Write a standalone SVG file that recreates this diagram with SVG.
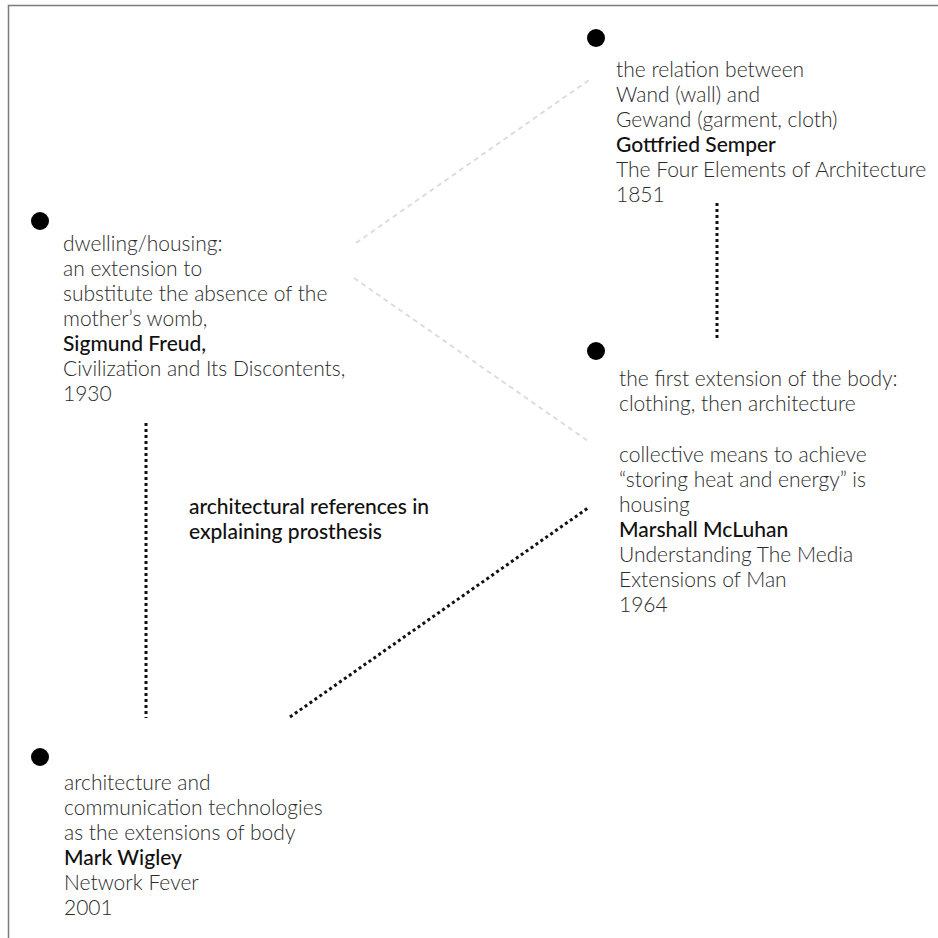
<svg xmlns="http://www.w3.org/2000/svg" width="938" height="938" viewBox="0 0 938 938">
<style>
.t{font-family:Lato,"Noto Sans","Liberation Sans",sans-serif;font-size:21px;font-weight:300;fill:#2b2b2b}
.b{font-weight:500;fill:#111}
.dot{fill:#000}
.faint{stroke:#dddddd;stroke-width:2;stroke-dasharray:5 4;fill:none}
.dotted{stroke:#111;stroke-width:3;stroke-dasharray:3 3;fill:none}
</style>
<rect width="938" height="938" fill="#fff"/>
<path d="M8.5 938 V5.5 H938" fill="none" stroke="#7a7a7a" stroke-width="1.5"/>
<g id="connectors">
<line class="faint" x1="356" y1="243" x2="589" y2="80"/>
<line class="faint" x1="354" y1="278" x2="588" y2="441"/>
<line class="dotted" x1="717" y1="203" x2="717" y2="341"/>
<line class="dotted" x1="146" y1="423" x2="146" y2="718"/>
<line class="dotted" x1="290" y1="717" x2="588" y2="508"/>
</g>
<g id="semper">
<circle class="dot" cx="596" cy="38" r="9"/>
<text class="t" x="616" y="77">the relation between</text>
<text class="t" x="616" y="102">Wand (wall) and</text>
<text class="t" x="616" y="127">Gewand (garment, cloth)</text>
<text class="t b" x="616" y="152">Gottfried Semper</text>
<text class="t" x="616" y="177">The Four Elements of Architecture</text>
<text class="t" x="616" y="202">1851</text>
</g>
<g id="freud">
<circle class="dot" cx="40" cy="221" r="9"/>
<text class="t" x="63" y="251">dwelling/housing:</text>
<text class="t" x="63" y="276">an extension to</text>
<text class="t" x="63" y="301">substitute the absence of the</text>
<text class="t" x="63" y="326">mother’s womb,</text>
<text class="t b" x="63" y="351">Sigmund Freud,</text>
<text class="t" x="63" y="376">Civilization and Its Discontents,</text>
<text class="t" x="63" y="401">1930</text>
</g>
<g id="mcluhan">
<circle class="dot" cx="596" cy="351" r="9"/>
<text class="t" x="619" y="386">the first extension of the body:</text>
<text class="t" x="619" y="411">clothing, then architecture</text>
<text class="t" x="619" y="462">collective means to achieve</text>
<text class="t" x="619" y="487">“storing heat and energy” is</text>
<text class="t" x="619" y="512">housing</text>
<text class="t b" x="619" y="537">Marshall McLuhan</text>
<text class="t" x="619" y="562">Understanding The Media</text>
<text class="t" x="619" y="587">Extensions of Man</text>
<text class="t" x="619" y="612">1964</text>
</g>
<g id="wigley">
<circle class="dot" cx="40" cy="757" r="9"/>
<text class="t" x="64" y="790">architecture and</text>
<text class="t" x="64" y="815">communication technologies</text>
<text class="t" x="64" y="840">as the extensions of body</text>
<text class="t b" x="64" y="865">Mark Wigley</text>
<text class="t" x="64" y="890">Network Fever</text>
<text class="t" x="64" y="915">2001</text>
</g>
<g id="title">
<text class="t b" x="189" y="514">architectural references in</text>
<text class="t b" x="189" y="539">explaining prosthesis</text>
</g>
</svg>
